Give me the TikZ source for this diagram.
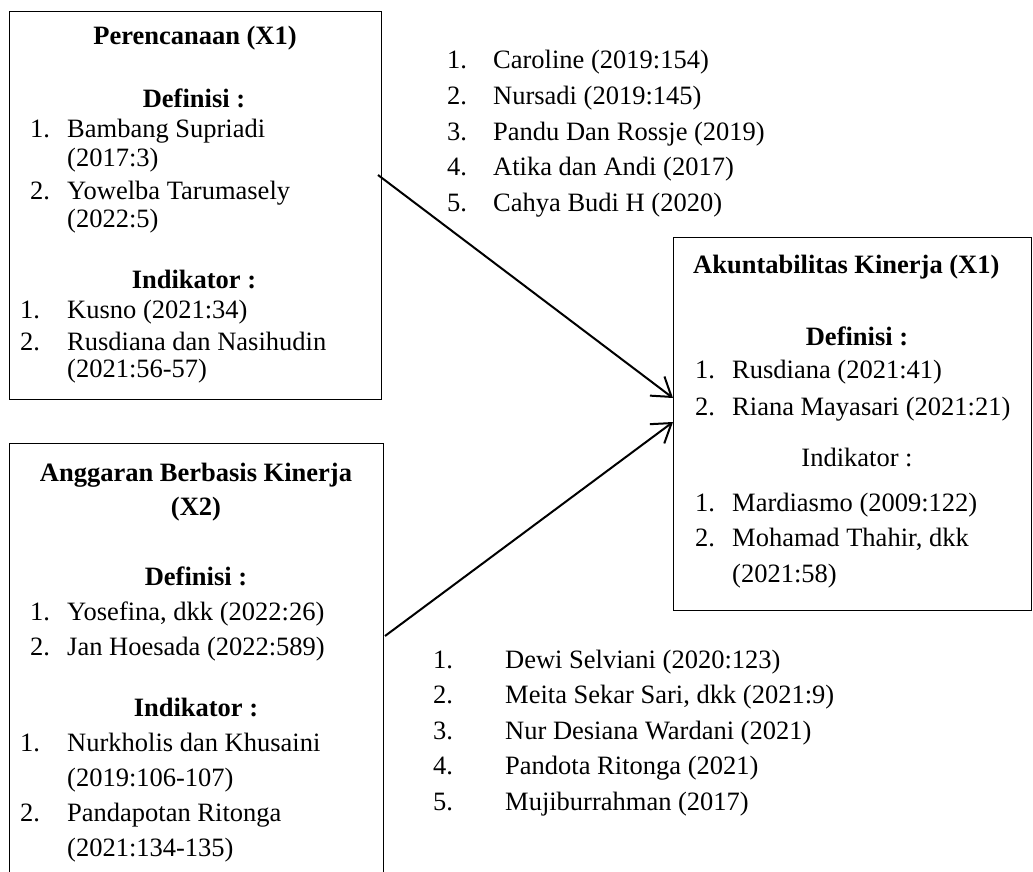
\documentclass[tikz,border=0pt]{standalone}
\usepackage{fontspec}
\setmainfont{Liberation Serif}
\usetikzlibrary{arrows.meta}
\begin{document}
\begin{tikzpicture}[x=1pt,y=-1pt,
  box/.style={draw, line width=1pt, anchor=north west, inner sep=0pt},
  txt/.style={anchor=base west, inner sep=0pt, font=\fontsize{26.5}{30}\selectfont},
  txc/.style={anchor=base, inner sep=0pt, font=\fontsize{26.5}{30}\selectfont},
  ttl/.style={anchor=base, inner sep=0pt, font=\fontsize{26.5}{30}\selectfont\bfseries},
  ttlw/.style={anchor=base west, inner sep=0pt, font=\fontsize{26.5}{30}\selectfont\bfseries},
  arr/.style={line width=2pt, -{Straight Barb[length=18pt,width=24pt,line width=2pt]}}]
\useasboundingbox (0,0) rectangle (1033,872);

% boxes
\node[box, minimum width=372pt, minimum height=388pt] (b1) at (9,11) {};
\node[box, minimum width=374pt, minimum height=445pt] (b2) at (9,443) {};
\node[box, minimum width=358pt, minimum height=373pt] (b3) at (673,237) {};

% box 1
\node[ttl] (p0) at (195,45) {Perencanaan (X1)};
\node[ttl] (p1) at (194,108) {Definisi :};
\node[txt] (p2n) at (30,138) {1.};
\node[txt] (p2) at (67,138) {Bambang Supriadi};
\node[txt] (p3) at (67,166) {(2017:3)};
\node[txt] (p4n) at (30,199) {2.};
\node[txt] (p4) at (67,199) {Yowelba Tarumasely};
\node[txt] (p5) at (67,227) {(2022:5)};
\node[ttl] (p6) at (194,288) {Indikator :};
\node[txt] (p7n) at (20,318) {1.};
\node[txt] (p7) at (67,318) {Kusno (2021:34)};
\node[txt] (p8n) at (20,350) {2.};
\node[txt] (p8) at (67,350) {Rusdiana dan Nasihudin};
\node[txt] (p9) at (67,377) {(2021:56-57)};

% box 2
\node[ttl] (q0) at (196,481) {Anggaran Berbasis Kinerja};
\node[ttl] (q1) at (196,515) {(X2)};
\node[ttl] (q2) at (196,585) {Definisi :};
\node[txt] (q3n) at (30,620) {1.};
\node[txt] (q3) at (67,620) {Yosefina, dkk (2022:26)};
\node[txt] (q4n) at (30,655) {2.};
\node[txt] (q4) at (67,655) {Jan Hoesada (2022:589)};
\node[ttl] (q5) at (196,716) {Indikator :};
\node[txt] (q6n) at (20,751) {1.};
\node[txt] (q6) at (67,751) {Nurkholis dan Khusaini};
\node[txt] (q7) at (67,786) {(2019:106-107)};
\node[txt] (q8n) at (20,821) {2.};
\node[txt] (q8) at (67,821) {Pandapotan Ritonga};
\node[txt] (q9) at (67,856) {(2021:134-135)};

% box 3
\node[ttlw] (r0) at (693,273) {Akuntabilitas Kinerja (X1)};
\node[ttl] (r1) at (857,345) {Definisi :};
\node[txt] (r2n) at (695,378) {1.};
\node[txt] (r2) at (732,378) {Rusdiana (2021:41)};
\node[txt] (r3n) at (695,415) {2.};
\node[txt] (r3) at (732,415) {Riana Mayasari (2021:21)};
\node[txc] (r4) at (857,466) {Indikator :};
\node[txt] (r5n) at (695,511) {1.};
\node[txt] (r5) at (732,511) {Mardiasmo (2009:122)};
\node[txt] (r6n) at (695,546) {2.};
\node[txt] (r6) at (732,546) {Mohamad Thahir, dkk};
\node[txt] (r7) at (732,582) {(2021:58)};

% top list
\node[txt] (u1n) at (447,69) {1.};
\node[txt] (u1) at (493,69) {Caroline (2019:154)};
\node[txt] (u2n) at (447,104.5) {2.};
\node[txt] (u2) at (493,104.5) {Nursadi (2019:145)};
\node[txt] (u3n) at (447,140) {3.};
\node[txt] (u3) at (493,140) {Pandu Dan Rossje (2019)};
\node[txt] (u4n) at (447,175.5) {4.};
\node[txt] (u4) at (493,175.5) {Atika dan Andi (2017)};
\node[txt] (u5n) at (447,211) {5.};
\node[txt] (u5) at (493,211) {Cahya Budi H (2020)};

% bottom list
\node[txt] (v1n) at (433,668) {1.};
\node[txt] (v1) at (505,668) {Dewi Selviani (2020:123)};
\node[txt] (v2n) at (433,703.5) {2.};
\node[txt] (v2) at (505,703.5) {Meita Sekar Sari, dkk (2021:9)};
\node[txt] (v3n) at (433,739) {3.};
\node[txt] (v3) at (505,739) {Nur Desiana Wardani (2021)};
\node[txt] (v4n) at (433,774.5) {4.};
\node[txt] (v4) at (505,774.5) {Pandota Ritonga (2021)};
\node[txt] (v5n) at (433,810) {5.};
\node[txt] (v5) at (505,810) {Mujiburrahman (2017)};

% arrows
\coordinate (s1) at (378,175);
\coordinate (e1) at (673,398);
\coordinate (s2) at (385,636);
\coordinate (e2) at (673,422);
\draw[arr] (s1) -- (e1);
\draw[arr] (s2) -- (e2);
\end{tikzpicture}
\end{document}
